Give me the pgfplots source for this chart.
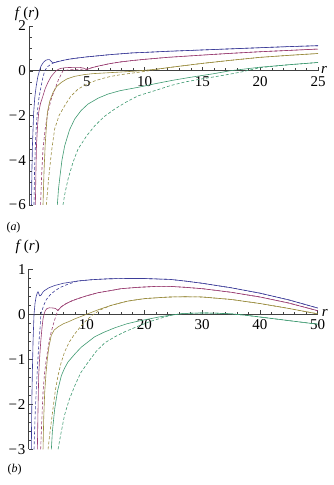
\documentclass[border=0pt]{standalone}
\usepackage{fontspec}
\setmainfont{Liberation Serif}
\usepackage{pgfplots}
\pgfplotsset{compat=1.18}
\definecolor{mblue}{rgb}{0.24,0.24,0.6}
\definecolor{mpurple}{rgb}{0.6,0.24,0.442}
\definecolor{myellow}{rgb}{0.6,0.547,0.24}
\definecolor{mgreen}{rgb}{0.24,0.6,0.44}
\pgfplotsset{
 mstyle/.style={
  scale only axis, width=289pt,
  axis x line=middle, axis y line=left,
  axis line style={-, black!75, line width=0.6pt},
  tick style={black!75, line width=0.5pt},
  major tick length=4pt, minor tick length=2.5pt,
  tick align=inside,
  clip mode=individual,
  tick label style={font=\fontsize{15}{18}\selectfont},
  xticklabel style={anchor=north, inner sep=0pt, yshift=-5.5pt},
  yticklabel style={anchor=east, inner sep=0pt, xshift=-3pt},
  every axis plot/.append style={line width=0.6pt, no markers},
 },
 das/.style={dash pattern=on 3pt off 2pt},
}
\newcommand{\mm}{−\kern1pt}
\begin{document}
\begin{tikzpicture}
\useasboundingbox (0,0) rectangle (333pt,485pt);
% ---------------- (a)
\begin{axis}[mstyle, height=179pt, at={(29pt,280pt)}, anchor=south west,
  xmin=0, xmax=25, ymin=-6, ymax=2,
  xtick={0,5,10,15,20,25}, xticklabels={,5,10,15,20,25}, minor x tick num=4,
  ytick={-6,-4,-2,0,2}, yticklabels={\mm6,\mm4,\mm2,0,2}, minor y tick num=3]
\addplot[mblue] coordinates {(0.22,-6) (0.25,-4.5) (0.3,-3.3) (0.4,-1.9) (0.5,-1.2) (0.62,-0.7) (0.75,-0.3) (0.9,0) (1.05,0.22) (1.25,0.38) (1.45,0.47) (1.65,0.5) (1.8,0.49) (1.92,0.42) (2.05,0.36) (2.25,0.37) (2.6,0.42) (3.0,0.47) (3.5,0.52) (4.2,0.57) (5,0.62) (6,0.67) (7,0.72) (8,0.76) (9,0.80) (10,0.82) (12,0.87) (15,0.93) (17.5,0.98) (20,1.03) (22.5,1.08) (25,1.12)};
\addplot[mblue,das] coordinates {(0.43,-6) (0.48,-4.5) (0.55,-3.35) (0.63,-2.5) (0.72,-1.86) (0.85,-1.25) (1.0,-0.82) (1.18,-0.35) (1.36,0) (1.6,0.18) (1.93,0.3) (2.3,0.39) (2.8,0.45) (3.5,0.52) (4.2,0.57) (5,0.62) (6,0.67) (7,0.72) (8,0.76) (9,0.80) (10,0.82) (12,0.87) (15,0.93) (17.5,0.98) (20,1.03) (22.5,1.08) (25,1.12)};
\addplot[mpurple] coordinates {(0.55,-6) (0.6,-4.5) (0.65,-3.3) (0.75,-2.4) (0.84,-1.86) (1.0,-1.45) (1.21,-1.12) (1.4,-0.8) (1.64,-0.52) (1.9,-0.27) (2.22,-0.07) (2.4,0.02) (2.6,0.08) (2.8,0.11) (3.2,0.14) (3.8,0.15) (4.4,0.15) (4.7,0.12) (4.9,0.07) (5.0,0.055) (5.1,0.07) (5.4,0.13) (6,0.21) (7,0.32) (8,0.40) (9,0.46) (10,0.51) (12,0.60) (15,0.70) (17.5,0.78) (20,0.85) (22.5,0.91) (25,0.97)};
\addplot[mpurple,das] coordinates {(1.0,-6) (1.1,-4.6) (1.21,-3.5) (1.4,-2.6) (1.64,-1.86) (1.9,-1.3) (2.22,-0.85) (2.55,-0.4) (2.94,0) (3.4,0.04) (4.0,0.06) (4.6,0.07) (5.0,0.08) (5.4,0.13) (6,0.21) (7,0.32) (8,0.40) (9,0.46) (10,0.51) (12,0.60) (15,0.70) (17.5,0.78) (20,0.85) (22.5,0.91) (25,0.97)};
\addplot[myellow] coordinates {(1.21,-6) (1.3,-4.5) (1.4,-3.3) (1.59,-1.86) (1.8,-1.35) (2.08,-0.97) (2.4,-0.7) (2.8,-0.52) (3.3,-0.36) (3.95,-0.25) (4.8,-0.17) (5.5,-0.13) (6.5,-0.1) (7.5,-0.07) (8.5,-0.04) (9.6,0) (11,0.07) (12.5,0.17) (15,0.33) (17.5,0.47) (20,0.60) (22.5,0.69) (25,0.77)};
\addplot[myellow,das] coordinates {(1.5,-6) (1.7,-4.8) (1.95,-3.6) (2.22,-2.6) (2.6,-2.0) (3.09,-1.56) (3.6,-1.15) (4.24,-0.82) (5,-0.6) (5.7,-0.45) (6.4,-0.34) (7.1,-0.25) (8,-0.17) (9,-0.1) (10,-0.03) (11,0.06) (12.5,0.17) (15,0.33) (17.5,0.47) (20,0.60) (22.5,0.69) (25,0.77)};
\addplot[mgreen] coordinates {(2.45,-6) (2.55,-5.3) (2.65,-4.84) (2.85,-4.0) (3.09,-3.35) (3.5,-2.65) (3.95,-2.16) (4.5,-1.78) (5.1,-1.49) (6,-1.22) (6.84,-1.04) (7.88,-0.89) (9.44,-0.74) (10,-0.68) (11,-0.57) (12.5,-0.42) (14,-0.29) (15,-0.21) (16,-0.13) (17.4,0) (20,0.16) (22.5,0.27) (25,0.37)};
\addplot[mgreen,das] coordinates {(2.94,-6) (3.1,-5.5) (3.38,-4.84) (3.8,-4.1) (4.24,-3.5) (5,-2.9) (5.69,-2.46) (6.5,-2.05) (7.42,-1.71) (8.4,-1.4) (9.44,-1.12) (10,-1.03) (11,-0.87) (12.2,-0.67) (13.5,-0.5) (15,-0.36) (16.5,-0.23) (17.5,-0.14) (18.5,-0.04) (20,0.14) (22.5,0.27) (25,0.37)};
\node[font=\fontsize{15}{18}\selectfont, xshift=-2pt, yshift=12.5pt] at (rel axis cs:0,1) {\textit{f}\,(\textit{r})};
\node[font=\fontsize{15}{18}\selectfont, anchor=base west, inner sep=0pt, xshift=3pt, yshift=-2.5pt] at (axis cs:25,0) {\textit{r}};
\node[font=\fontsize{12}{14}\selectfont, xshift=-15.5pt, yshift=-23pt] at (rel axis cs:0,0) {(\textit{a})};
\end{axis}
% ---------------- (b)
\begin{axis}[mstyle, height=180pt, at={(28.7pt,35.7pt)}, anchor=south west,
  xmin=0, xmax=50, ymin=-3, ymax=1,
  xtick={0,10,20,30,40,50}, xticklabels={,10,20,30,40,50}, minor x tick num=4,
  ytick={-3,-2,-1,0,1}, yticklabels={\mm3,\mm2,\mm1,0,1}, minor y tick num=4]
\addplot[mblue] coordinates {(0.46,-3) (0.5,-2.4) (0.56,-1.8) (0.65,-1.2) (0.75,-0.6) (0.92,0) (1.1,0.25) (1.3,0.4) (1.5,0.48) (1.61,0.5) (1.75,0.46) (1.9,0.41) (2.1,0.42) (2.5,0.5) (2.77,0.53) (3.5,0.59) (4.5,0.64) (6,0.69) (8.5,0.74) (11,0.77) (14,0.79) (17,0.795) (20,0.795) (24.5,0.775) (27,0.74) (30,0.69) (35,0.59) (40,0.47) (45,0.32) (50,0.14)};
\addplot[mblue,das] coordinates {(0.92,-3) (1.15,-2.1) (1.44,-1.36) (1.75,-0.65) (2.0,-0.25) (2.1,0) (2.6,0.2) (3.06,0.33) (3.7,0.43) (4.5,0.52) (5.5,0.6) (6.8,0.67) (8.5,0.74) (11,0.77) (14,0.79) (17,0.795) (20,0.795) (24.5,0.775) (27,0.74) (30,0.69) (35,0.59) (40,0.47) (45,0.32) (50,0.14)};
\addplot[mpurple] coordinates {(1.5,-3) (1.6,-2.2) (1.73,-1.36) (1.9,-0.95) (2.08,-0.61) (2.3,-0.3) (2.48,-0.1) (2.7,0.02) (2.9,0.09) (3.2,0.13) (3.6,0.145) (4.2,0.14) (4.6,0.13) (4.85,0.11) (5.05,0.085) (5.3,0.12) (5.66,0.17) (6.5,0.24) (7.5,0.30) (8.55,0.35) (10,0.41) (12,0.48) (14.3,0.53) (16,0.57) (19,0.60) (22,0.62) (24.5,0.62) (27,0.60) (30,0.57) (35,0.49) (40,0.385) (45,0.25) (50,0.08)};
\addplot[mpurple,das] coordinates {(2.07,-3) (2.25,-2.4) (2.48,-1.73) (2.75,-1.3) (3.06,-0.99) (3.5,-0.63) (3.9,-0.39) (4.4,-0.16) (4.8,0) (5.05,0.085) (5.3,0.12) (5.66,0.17) (6.5,0.24) (7.5,0.30) (8.55,0.35) (10,0.41) (12,0.48) (14.3,0.53) (16,0.57) (19,0.60) (22,0.62) (24.5,0.62) (27,0.60) (30,0.57) (35,0.49) (40,0.385) (45,0.25) (50,0.08)};
\addplot[myellow] coordinates {(2.48,-3) (2.6,-2.3) (2.77,-1.73) (3.0,-1.3) (3.23,-0.99) (3.5,-0.72) (3.9,-0.47) (4.4,-0.35) (5.08,-0.28) (6,-0.21) (6.8,-0.17) (8,-0.1) (9,-0.05) (10,0) (12,0.1) (14.3,0.2) (17,0.29) (19,0.33) (20.2,0.35) (22.5,0.37) (24.5,0.385) (27,0.39) (30,0.385) (35,0.33) (40,0.24) (45,0.13) (50,0.01)};
\addplot[myellow,das] coordinates {(3.35,-3) (3.7,-2.6) (4.2,-2.1) (4.6,-1.7) (5.08,-1.36) (5.6,-1.08) (6.2,-0.84) (7,-0.62) (8,-0.43) (9,-0.27) (10,-0.13) (11,-0.02) (12.4,0.1) (14.3,0.2) (17,0.29) (19,0.33) (20.2,0.35) (22.5,0.37) (24.5,0.385) (27,0.39) (30,0.385) (35,0.33) (40,0.24) (45,0.13) (50,0.01)};
\addplot[mgreen] coordinates {(3.92,-3) (4.1,-2.6) (4.5,-2.1) (5.0,-1.7) (5.66,-1.36) (6.2,-1.2) (6.8,-1.06) (8,-0.88) (9.1,-0.73) (10.2,-0.62) (11.4,-0.5) (13,-0.4) (14.9,-0.3) (17,-0.21) (19,-0.15) (20.2,-0.12) (22.5,-0.06) (24.5,-0.02) (27,0.02) (30,0.03) (32.5,0.025) (35,0.01) (37.5,-0.02) (40,-0.06) (45,-0.14) (50,-0.22)};
\addplot[mgreen,das] coordinates {(5.08,-3) (5.5,-2.7) (6.2,-2.24) (7,-1.9) (8,-1.58) (9,-1.3) (10.3,-1.06) (11.7,-0.82) (13.2,-0.63) (14.9,-0.5) (16.6,-0.39) (19,-0.26) (21,-0.16) (23,-0.08) (25,-0.01) (27,0.02) (30,0.03) (32.5,0.025) (35,0.01) (37.5,-0.02) (40,-0.06) (45,-0.14) (50,-0.22)};
\node[font=\fontsize{15}{18}\selectfont, xshift=-1pt, yshift=22.5pt] at (rel axis cs:0,1) {\textit{f}\,(\textit{r})};
\node[font=\fontsize{15}{18}\selectfont, anchor=base west, inner sep=0pt, xshift=4pt, yshift=-2.5pt] at (axis cs:50,0) {\textit{r}};
\node[font=\fontsize{12}{14}\selectfont, xshift=-14pt, yshift=-20.5pt] at (rel axis cs:0,0) {(\textit{b})};
\end{axis}
\end{tikzpicture}
\end{document}
